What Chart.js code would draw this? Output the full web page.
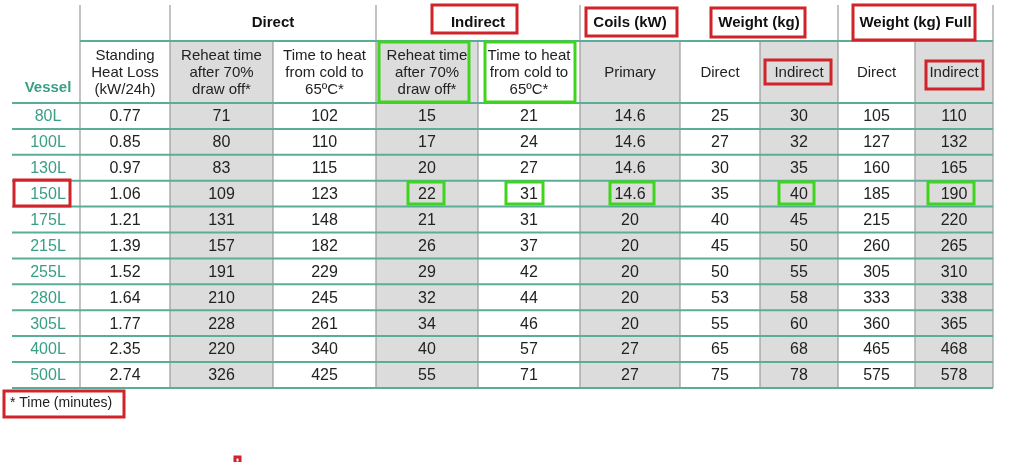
<!DOCTYPE html>
<html>
<head>
<meta charset="utf-8">
<script src="https://cdn.jsdelivr.net/npm/chart.js@4/dist/chart.umd.min.js"></script>
<style>
  html, body { margin: 0; padding: 0; background: #fff; }
  #wrap { width: 1012px; height: 462px; }
</style>
</head>
<body>
<div id="wrap"><canvas id="tbl"></canvas></div>
<script>
// table data
const vessels = ["80L", "100L", "130L", "150L", "175L", "215L", "255L", "280L", "305L", "400L", "500L"];
const heatLoss = ["0.77", "0.85", "0.97", "1.06", "1.21", "1.39", "1.52", "1.64", "1.77", "2.35", "2.74"];
const directReheat = [71, 80, 83, 109, 131, 157, 191, 210, 228, 220, 326];
const directHeat = [102, 110, 115, 123, 148, 182, 229, 245, 261, 340, 425];
const indirectReheat = [15, 17, 20, 22, 21, 26, 29, 32, 34, 40, 55];
const indirectHeat = [21, 24, 27, 31, 31, 37, 42, 44, 46, 57, 71];
const coilsPrimary = ["14.6", "14.6", "14.6", "14.6", "20", "20", "20", "20", "20", "27", "27"];
const weightDirect = [25, 27, 30, 35, 40, 45, 50, 53, 55, 65, 75];
const weightIndirect = [30, 32, 35, 40, 45, 50, 55, 58, 60, 68, 78];
const fullDirect = [105, 127, 160, 185, 215, 260, 305, 333, 360, 465, 575];
const fullIndirect = [110, 132, 165, 190, 220, 265, 310, 338, 365, 468, 578];

const groupHeaders = ["", "Direct", "Indirect", "Coils (kW)", "Weight (kg)", "Weight (kg) Full"];
const subHeaders = ["Vessel", "Standing\nHeat Loss\n(kW/24h)", "Reheat time\nafter 70%\ndraw off*",
  "Time to heat\nfrom cold to\n65ºC*", "Reheat time\nafter 70%\ndraw off*", "Time to heat\nfrom cold to\n65ºC*",
  "Primary", "Direct", "Indirect", "Direct", "Indirect"];
const footnote = "* Time (minutes)";

const columns = [vessels, heatLoss, directReheat, directHeat, indirectReheat, indirectHeat,
  coilsPrimary, weightDirect, weightIndirect, fullDirect, fullIndirect];

// layout (in scale units)
const colEdges = [12, 80, 170, 273, 376, 478, 580, 680, 760, 838, 915, 993];
const groupSpans = [[80, 170], [170, 376], [376, 580], [580, 680], [680, 838], [838, 993]];
const groupLines = [80, 170, 376, 580, 838, 993];
const greyCols = [2, 4, 6, 8, 10];
const headTop = 5, headMid = 41, headBot = 103, rowH = 25.9;

const redBoxes = [[432, 5, 517, 33], [586, 8, 677, 36], [711, 8, 805, 37], [853, 5, 975, 40],
  [765, 60, 831, 84], [926, 61, 983, 89], [14, 180, 70, 206], [4, 391, 124, 417], [235, 457, 240, 463]];
const greenBoxes = [[379, 42, 469, 102], [485, 42, 575, 102], [408, 182, 444, 204], [506, 182, 543, 204],
  [610, 182, 654, 204], [779, 182, 814, 204], [928, 182, 974, 204]];

const tablePlugin = {
  id: "tablePlugin",
  afterDraw(chart) {
    const ctx = chart.ctx;
    const xs = chart.scales.x, ys = chart.scales.y;
    const X = v => xs.getPixelForValue(v);
    const Y = v => ys.getPixelForValue(v);
    const bottom = headBot + rowH * vessels.length;
    ctx.save();

    // grey columns
    ctx.fillStyle = "#dcdcdc";
    greyCols.forEach(c => {
      ctx.fillRect(X(colEdges[c]), Y(headMid), X(colEdges[c + 1]) - X(colEdges[c]), Y(bottom) - Y(headMid));
    });

    // vertical lines
    ctx.strokeStyle = "#9a9a9a";
    ctx.lineWidth = 1.2;
    groupLines.forEach(x => {
      ctx.beginPath(); ctx.moveTo(X(x), Y(headTop)); ctx.lineTo(X(x), Y(headMid)); ctx.stroke();
    });
    colEdges.slice(1).forEach(x => {
      ctx.beginPath(); ctx.moveTo(X(x), Y(headMid)); ctx.lineTo(X(x), Y(bottom)); ctx.stroke();
    });

    // horizontal lines
    ctx.strokeStyle = "#5aae97";
    ctx.lineWidth = 2;
    ctx.beginPath(); ctx.moveTo(X(80), Y(headMid)); ctx.lineTo(X(993), Y(headMid)); ctx.stroke();
    for (let r = 0; r <= vessels.length; r++) {
      const y = headBot + r * rowH;
      ctx.beginPath(); ctx.moveTo(X(12), Y(y)); ctx.lineTo(X(993), Y(y)); ctx.stroke();
    }

    // group headers
    ctx.textAlign = "center";
    ctx.textBaseline = "middle";
    ctx.fillStyle = "#111";
    ctx.font = "bold 15px 'Liberation Sans', Arial, sans-serif";
    groupHeaders.forEach((t, i) => {
      const [a, b] = groupSpans[i];
      ctx.fillText(t, (X(a) + X(b)) / 2, Y((headTop + headMid) / 2));
    });

    // sub headers
    subHeaders.forEach((t, i) => {
      const cx = (X(colEdges[i]) + X(colEdges[i + 1])) / 2;
      const lines = t.split("\n");
      if (i === 0) {
        ctx.font = "bold 15px 'Liberation Sans', Arial, sans-serif";
        ctx.fillStyle = "#3a9e84";
        ctx.fillText(t, cx + 2, Y(88));
        return;
      }
      ctx.font = "15px 'Liberation Sans', Arial, sans-serif";
      ctx.fillStyle = "#222";
      const mid = (headMid + headBot) / 2 + 1;
      lines.forEach((l, k) => {
        ctx.fillText(l, cx, Y(mid + (k - (lines.length - 1) / 2) * 17), X(colEdges[i + 1]) - X(colEdges[i]) - 6);
      });
    });

    // body cells
    ctx.font = "16px 'Liberation Sans', Arial, sans-serif";
    columns.forEach((col, c) => {
      const cx = (X(colEdges[c]) + X(colEdges[c + 1])) / 2;
      ctx.fillStyle = c === 0 ? "#3a9e84" : "#222";
      col.forEach((v, r) => {
        ctx.fillText(String(v), cx + (c === 0 ? 2 : 0), Y(headBot + (r + 0.5) * rowH + 1));
      });
    });

    // footnote
    ctx.textAlign = "left";
    ctx.fillStyle = "#222";
    ctx.font = "14px 'Liberation Sans', Arial, sans-serif";
    ctx.fillText(footnote, X(10), Y(403));

    // annotation boxes
    ctx.lineWidth = 3;
    ctx.strokeStyle = "#d0232a";
    redBoxes.forEach(b => ctx.strokeRect(X(b[0]), Y(b[1]), X(b[2]) - X(b[0]), Y(b[3]) - Y(b[1])));
    ctx.strokeStyle = "#3fd41e";
    greenBoxes.forEach(b => ctx.strokeRect(X(b[0]), Y(b[1]), X(b[2]) - X(b[0]), Y(b[3]) - Y(b[1])));
    ctx.restore();
  }
};

new Chart(document.getElementById("tbl"), {
  type: "scatter",
  data: { datasets: [{ data: [] }] },
  options: {
    responsive: true,
    maintainAspectRatio: false,
    animation: false,
    layout: { padding: 0 },
    plugins: { legend: { display: false }, tooltip: { enabled: false } },
    scales: {
      x: { type: "linear", min: 0, max: 1012, display: false },
      y: { type: "linear", min: 0, max: 462, reverse: true, display: false }
    }
  },
  plugins: [tablePlugin]
});
</script>
</body>
</html>
